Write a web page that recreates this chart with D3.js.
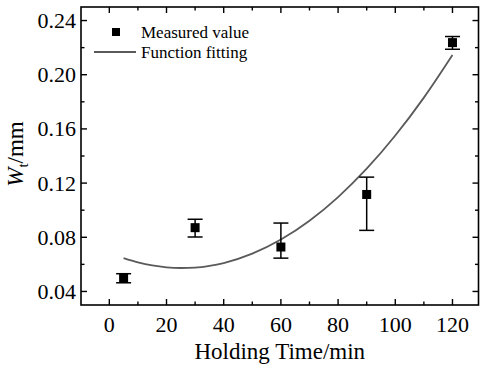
<!DOCTYPE html>
<html>
<head>
<meta charset="utf-8">
<script src="https://cdn.jsdelivr.net/npm/d3@7"></script>
<style>
  html, body { margin: 0; padding: 0; background: #fff; }
  svg { display: block; }
</style>
</head>
<body>
<svg id="chart" width="480" height="369"></svg>
<script>
// ---- data ----
const holdingTime = [5, 30, 60, 90, 120];
const measuredValue = [0.0496, 0.0871, 0.0728, 0.1116, 0.2237];
const errorUpper = [0.0531, 0.0933, 0.0905, 0.1244, 0.2282];
const errorLower = [0.0464, 0.0802, 0.0646, 0.0851, 0.2188];

const fitX = [5, 10, 15, 20, 25, 30, 35, 40, 50, 60, 70, 80, 90, 100, 110, 120];
const fitY = [0.0646, 0.0615, 0.0592, 0.0578, 0.0573, 0.0576, 0.0589, 0.0610, 0.0679, 0.0783, 0.0922, 0.1097, 0.1306, 0.1551, 0.1831, 0.2146];

const xTicks = [0, 20, 40, 60, 80, 100, 120];
const xMinorTicks = [-10, 10, 30, 50, 70, 90, 110];
const yTicks = [0.04, 0.08, 0.12, 0.16, 0.20, 0.24];
const yMinorTicks = [0.06, 0.10, 0.14, 0.18, 0.22];

const legendLabels = ["Measured value", "Function fitting"];

// ---- layout ----
const pLeft = 81, pRight = 478.5, pTop = 7, pBottom = 305;
const FONT = "'Liberation Serif', 'Times New Roman', Times, 'DejaVu Serif', serif";
const svg = d3.select("#chart").attr("font-family", FONT).style("font-family", FONT);

const x = d3.scaleLinear().domain([-9.9, 129.1]).range([pLeft, pRight]);
const y = d3.scaleLinear().domain([0.03, 0.25]).range([pBottom, pTop]);

const axisColor = "#000";
const majorLen = 6, minorLen = 3.5;

// frame
svg.append("rect")
  .attr("x", pLeft).attr("y", pTop)
  .attr("width", pRight - pLeft).attr("height", pBottom - pTop)
  .attr("fill", "none").attr("stroke", axisColor).attr("stroke-width", 1.6);

const ticksG = svg.append("g").attr("stroke", axisColor).attr("stroke-width", 1.4);

// x ticks bottom & top (inward)
xTicks.forEach(v => {
  ticksG.append("line").attr("x1", x(v)).attr("x2", x(v)).attr("y1", pBottom).attr("y2", pBottom - majorLen);
  ticksG.append("line").attr("x1", x(v)).attr("x2", x(v)).attr("y1", pTop).attr("y2", pTop + majorLen);
});
xMinorTicks.filter(v => x(v) > pLeft + 1).forEach(v => {
  ticksG.append("line").attr("x1", x(v)).attr("x2", x(v)).attr("y1", pBottom).attr("y2", pBottom - minorLen);
  ticksG.append("line").attr("x1", x(v)).attr("x2", x(v)).attr("y1", pTop).attr("y2", pTop + minorLen);
});
// y ticks left & right (inward)
yTicks.forEach(v => {
  ticksG.append("line").attr("y1", y(v)).attr("y2", y(v)).attr("x1", pLeft).attr("x2", pLeft + majorLen);
  ticksG.append("line").attr("y1", y(v)).attr("y2", y(v)).attr("x1", pRight).attr("x2", pRight - majorLen);
});
yMinorTicks.forEach(v => {
  ticksG.append("line").attr("y1", y(v)).attr("y2", y(v)).attr("x1", pLeft).attr("x2", pLeft + minorLen);
  ticksG.append("line").attr("y1", y(v)).attr("y2", y(v)).attr("x1", pRight).attr("x2", pRight - minorLen);
});

// tick labels
svg.append("g").selectAll("text").data(xTicks).join("text")
  .attr("x", d => x(d)).attr("y", 332)
  .attr("text-anchor", "middle").attr("font-size", 22)
  .text(d => d);
svg.append("g").selectAll("text").data(yTicks).join("text")
  .attr("x", pLeft - 5).attr("y", d => y(d)).attr("dy", "0.34em")
  .attr("text-anchor", "end").attr("font-size", 22)
  .text(d3.format(".2f"));

// axis titles
svg.append("text")
  .attr("x", (pLeft + pRight) / 2).attr("y", 359)
  .attr("text-anchor", "middle").attr("font-size", 23)
  .text("Holding Time/min");

const yt = svg.append("text")
  .attr("transform", `translate(23,154) rotate(-90)`)
  .attr("text-anchor", "middle").attr("font-size", 23);
yt.append("tspan").attr("font-style", "italic").text("W");
yt.append("tspan").attr("font-size", 15).attr("dy", 5).text("t");
yt.append("tspan").attr("dy", -5).text("/mm");

// fit curve
svg.append("path")
  .datum(fitX.map((d, i) => [d, fitY[i]]))
  .attr("d", d3.line().x(d => x(d[0])).y(d => y(d[1])).curve(d3.curveMonotoneX))
  .attr("fill", "none").attr("stroke", "#5a5a5a").attr("stroke-width", 1.8);

// error bars
const capW = 7.5;
const eb = svg.append("g").attr("stroke", "#000").attr("stroke-width", 1.5);
holdingTime.forEach((t, i) => {
  const cx = x(t);
  eb.append("line").attr("x1", cx).attr("x2", cx).attr("y1", y(errorUpper[i])).attr("y2", y(errorLower[i]));
  eb.append("line").attr("x1", cx - capW).attr("x2", cx + capW).attr("y1", y(errorUpper[i])).attr("y2", y(errorUpper[i]));
  eb.append("line").attr("x1", cx - capW).attr("x2", cx + capW).attr("y1", y(errorLower[i])).attr("y2", y(errorLower[i]));
});

// markers
const ms = 9;
svg.append("g").selectAll("rect").data(holdingTime).join("rect")
  .attr("x", d => x(d) - ms / 2)
  .attr("y", (d, i) => y(measuredValue[i]) - ms / 2)
  .attr("width", ms).attr("height", ms).attr("fill", "#000");

// legend
const lg = svg.append("g");
lg.append("rect").attr("x", 112).attr("y", 28).attr("width", 8).attr("height", 8).attr("fill", "#000");
lg.append("text").attr("x", 141).attr("y", 37.5).attr("font-size", 17).text(legendLabels[0]);
lg.append("line").attr("x1", 94).attr("x2", 136).attr("y1", 52).attr("y2", 52)
  .attr("stroke", "#5a5a5a").attr("stroke-width", 1.8);
lg.append("text").attr("x", 141).attr("y", 57.5).attr("font-size", 17).text(legendLabels[1]);
</script>
</body>
</html>
